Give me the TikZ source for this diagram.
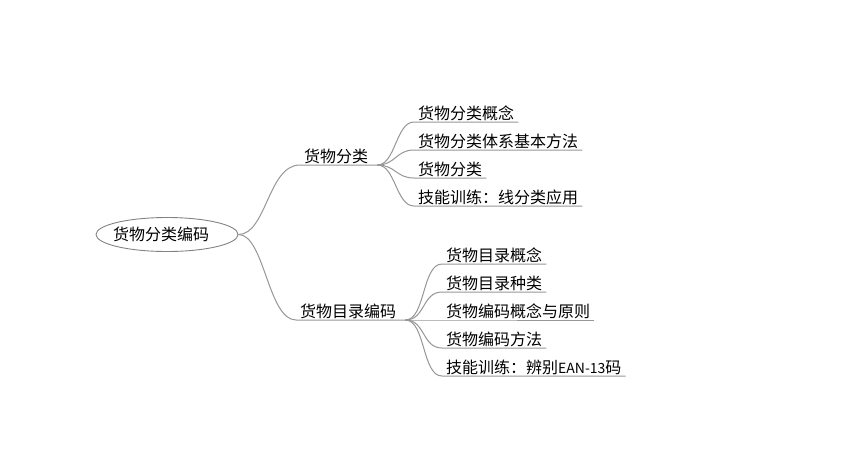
\documentclass[tikz,border=0pt]{standalone}
\usepackage{fontspec}
\setmainfont{Noto Sans CJK SC}
\usetikzlibrary{shapes.geometric}
\definecolor{linegray}{RGB}{150,150,150}
\definecolor{ellgray}{RGB}{130,130,130}
\tikzset{
  conn/.style={draw=linegray, line width=1pt},
  rootbox/.style={ellipse, draw=ellgray, line width=0.9pt, minimum width=142pt, minimum height=34pt, inner sep=0pt, font=\fontsize{16}{16}\selectfont},
  lab/.style={anchor=south west, inner xsep=4pt, inner ysep=0.5pt, font=\fontsize{16}{16}\selectfont}
}
\begin{document}
\begin{tikzpicture}[x=1pt,y=-1pt]
\useasboundingbox (0,0) rectangle (843,466);
\node[rootbox] (root) at (167,234.5) {\makebox[96pt][l]{\hspace*{-6pt}货物分类编码}};
% level 1
\node[lab] (a) at (300,165) {货物分类\hspace*{5pt}};
\node[lab] (b) at (296,320) {货物目录编码\hspace*{5pt}};
% children of a
\node[lab] (a1) at (414,122) {货物分类概念};
\node[lab] (a2) at (414,150) {货物分类体系基本方法};
\node[lab] (a3) at (414,178) {货物分类};
\node[lab] (a4) at (414,206) {技能训练：线分类应用};
% children of b
\node[lab] (b1) at (442,264) {货物目录概念};
\node[lab] (b2) at (442,292) {货物目录种类};
\node[lab] (b3) at (442,320) {货物编码概念与原则};
\node[lab] (b4) at (442,348) {货物编码方法};
\node[lab] (b5) at (442,376) {技能训练：辨别{\fontsize{14}{14}\selectfont EAN-13}码};
% connectors
\draw[conn] (root.east) .. controls +(28,0) and +(-32,0) .. (a.south west) -- (a.south east);
\draw[conn] (root.east) .. controls +(26,0) and +(-28,0) .. (b.south west) -- (b.south east);
\foreach \c in {a1,a2,a3,a4}
  \draw[conn] (a.south east) .. controls +(18,0) and +(-18,0) .. (\c.south west) -- (\c.south east);
\foreach \c in {b1,b2,b3,b4,b5}
  \draw[conn] (b.south east) .. controls +(20,0) and +(-20,0) .. (\c.south west) -- (\c.south east);
\end{tikzpicture}
\end{document}
